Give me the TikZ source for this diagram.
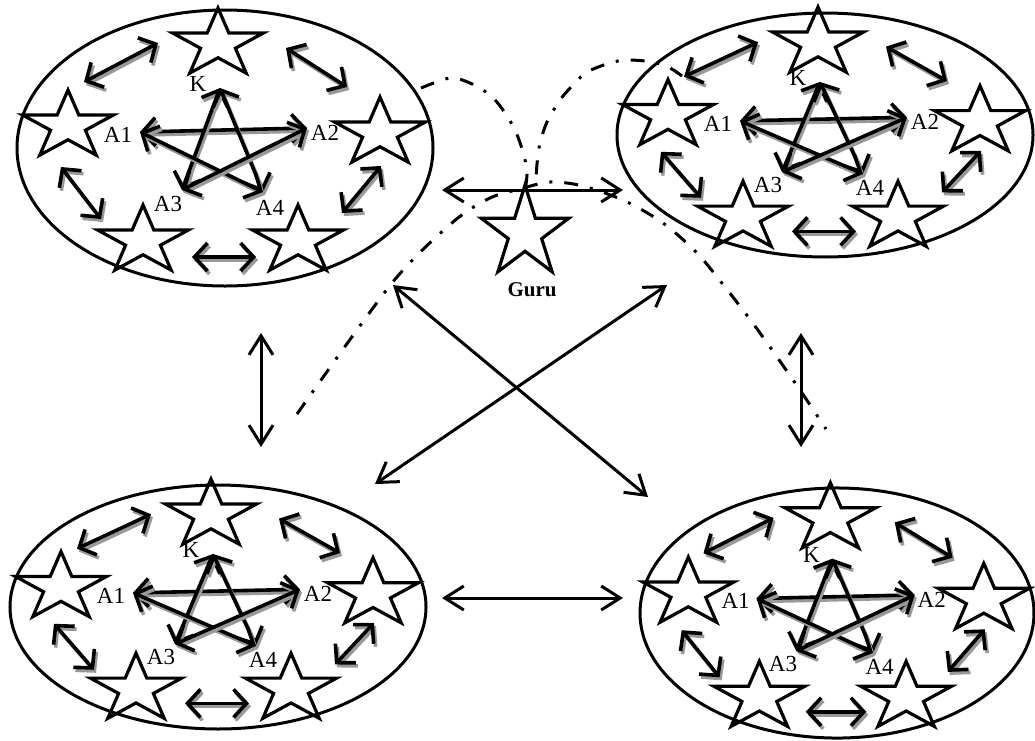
\documentclass[tikz,border=0pt]{standalone}
\usepackage{fontspec}
\setmainfont{Liberation Serif}
\usetikzlibrary{arrows.meta}
\newcommand\sarr[2]{%
  \draw[shadowarr] (#1) -- (#2);
  \draw[inarr] (#1) -- (#2);}
\tikzset{
  ell/.style={line width=3pt},
  starline/.style={line width=3.2pt, line join=miter},
  bigarr/.style={line width=3pt, >={Straight Barb[length=19pt,width=24pt]}, <->},
  inarr/.style={line width=3.6pt, >={Straight Barb[length=13pt,width=28pt]}, <->},
  shadowarr/.style={inarr, draw=black!40, transform canvas={shift={(2pt,-3pt)}}},
  dashdot/.style={line width=3pt, dash pattern=on 14pt off 12pt on 3pt off 12pt},
  lbl/.style={font=\fontsize{23}{27}\selectfont, inner sep=0pt},
  pics/fivestar/.style={code={
    \draw[starline] (0,-36) -- (10.8,-11.1) -- (45.6,-11.1) -- (17.4,4.25)
      -- (28.2,29.1) -- (0,13.75) -- (-28.2,29.1) -- (-17.4,4.25)
      -- (-45.6,-11.1) -- (-10.8,-11.1) -- cycle;
  }},
  pics/cluster/.style={code={
    \draw[ell] (0,0) ellipse (208 and 138);
    \coordinate (-st) at (-7,-104);
    \coordinate (-sl) at (-157,-22);
    \coordinate (-sr) at (155,-15);
    \coordinate (-sbl) at (-82,93);
    \coordinate (-sbr) at (73,93);
    \pic at (-st) {fivestar};
    \pic at (-sl) {fivestar};
    \pic at (-sr) {fivestar};
    \pic at (-sbl) {fivestar};
    \pic at (-sbr) {fivestar};
    \coordinate (-K) at (-5,-60);
    \coordinate (-A1) at (-85,-16);
    \coordinate (-A2) at (82,-20);
    \coordinate (-A3) at (-43,42);
    \coordinate (-A4) at (38,44);
    \node[lbl] (-lK) at (-27,-64) {K};
    \node[lbl] (-lA1) at (-107,-13) {A1};
    \node[lbl] (-lA2) at (100,-15) {A2};
    \node[lbl] (-lA3) at (-57,56) {A3};
    \node[lbl] (-lA4) at (45,60) {A4};
    \sarr{-A1}{-A2}
    \sarr{-K}{-A3}
    \sarr{-K}{-A4}
    \sarr{-A1}{-A4}
    \sarr{-A2}{-A3}
    \coordinate (-o1a) at (-141,-66); \coordinate (-o1b) at (-67,-105);
    \coordinate (-o2a) at (61,-100);  \coordinate (-o2b) at (122,-61);
    \coordinate (-o3a) at (-164,19);  \coordinate (-o3b) at (-124,71);
    \coordinate (-o4a) at (156,18);   \coordinate (-o4b) at (117,65);
    \coordinate (-o5a) at (-33,109);  \coordinate (-o5b) at (31,109);
    \sarr{-o1a}{-o1b}
    \sarr{-o2a}{-o2b}
    \sarr{-o3a}{-o3b}
    \sarr{-o4a}{-o4b}
    \sarr{-o5a}{-o5b}
  }}
}
\begin{document}
\begin{tikzpicture}[x=1pt,y=-1pt]
\useasboundingbox (0,0) rectangle (1035,740);
% clusters
\pic (tl) at (225,148) {cluster};
\pic[yscale=0.884] (tr) at (825,135) {cluster};
\pic[yscale=0.884] (bl) at (218,607) {cluster};
\pic[xscale=0.947,yscale=0.906] (br) at (837,613) {cluster};
% guru
\coordinate (guru) at (525,233);
\pic[xscale=0.96,yscale=1.33] at (guru) {fivestar};
\node[font=\fontsize{21}{25}\selectfont\bfseries, inner sep=0pt] (gurulbl) at (532,290) {Guru};
% big connectors
\coordinate (ga1) at (442,190); \coordinate (ga2) at (623,190);
\coordinate (lv1) at (261,333); \coordinate (lv2) at (261,447);
\coordinate (rv1) at (801,333); \coordinate (rv2) at (801,447);
\coordinate (bh1) at (442,598); \coordinate (bh2) at (623,598);
\coordinate (x1a) at (393,285); \coordinate (x1b) at (648,497);
\coordinate (x2a) at (667,285); \coordinate (x2b) at (375,484);
\draw[bigarr] (ga1) -- (ga2);
\draw[bigarr] (lv1) -- (lv2);
\draw[bigarr] (rv1) -- (rv2);
\draw[bigarr] (bh1) -- (bh2);
\draw[bigarr] (x1a) -- (x1b);
\draw[bigarr] (x2a) -- (x2b);
% dash-dot curves
\draw[dashdot] plot[smooth] coordinates {(421,88) (450,78) (470,83) (490,95) (503,110) (515,130) (523,152) (527,172) (525,192)};
\draw[dashdot] plot[smooth] coordinates {(682,76) (670,68) (653,62) (627,60) (610,63) (587,72) (572,86) (560,100) (547,122) (540,143) (537,164) (536,182)};
\draw[dashdot] plot[smooth] coordinates {(297,414) (392,283) (453,222) (490,198) (520,189) (550,182) (583,186) (625,201) (663,223) (697,253) (725,287) (752,322) (777,357) (802,393) (826,429)};
\end{tikzpicture}
\end{document}
